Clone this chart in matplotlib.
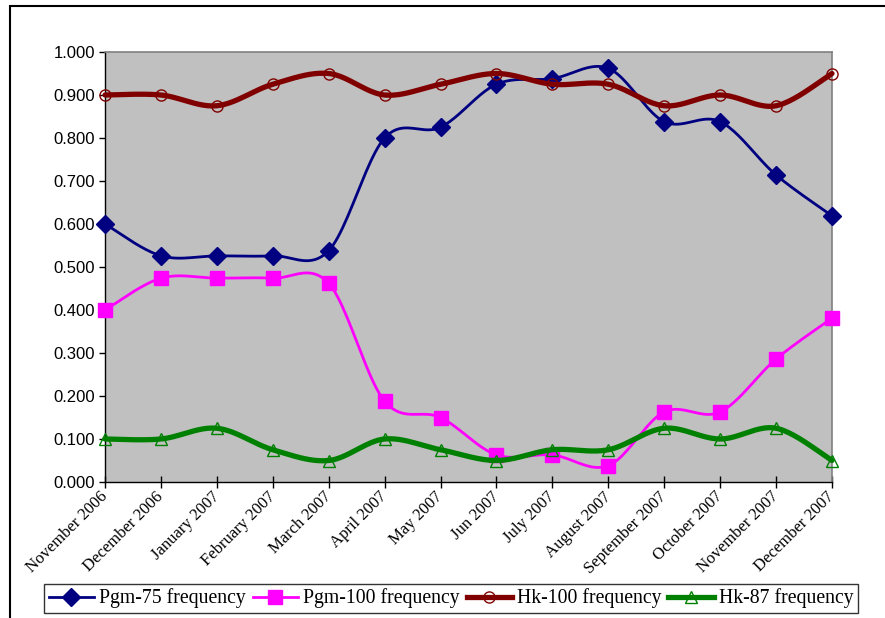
import numpy as np
import matplotlib
matplotlib.use("Agg")
import matplotlib.pyplot as plt
from matplotlib.lines import Line2D
from matplotlib.patches import Rectangle

months = ["November 2006", "December 2006", "January 2007", "February 2007",
          "March 2007", "April 2007", "May 2007", "Jun 2007", "July 2007",
          "August 2007", "September 2007", "October 2007", "November 2007",
          "December 2007"]

pgm75 = [0.600, 0.526, 0.526, 0.526, 0.538, 0.800, 0.825, 0.925, 0.938,
         0.962, 0.838, 0.838, 0.714, 0.619]
pgm100 = [0.400, 0.474, 0.474, 0.474, 0.462, 0.188, 0.150, 0.063, 0.063,
          0.038, 0.163, 0.163, 0.286, 0.381]
hk100 = [0.900, 0.900, 0.875, 0.925, 0.950, 0.900, 0.925, 0.950, 0.925,
         0.925, 0.875, 0.900, 0.875, 0.950]
hk87 = [0.100, 0.100, 0.125, 0.075, 0.050, 0.100, 0.075, 0.050, 0.075,
        0.075, 0.125, 0.100, 0.125, 0.050]

series_names = ["Pgm-75 frequency", "Pgm-100 frequency",
                "Hk-100 frequency", "Hk-87 frequency"]
yticks = [0.0, 0.1, 0.2, 0.3, 0.4, 0.5, 0.6, 0.7, 0.8, 0.9, 1.0]


def smooth_curve(yvals, n=25):
    """Bezier smoothing through every point (Catmull-Rom control points)."""
    x = np.arange(len(yvals), dtype=float)
    P = np.column_stack([x, np.asarray(yvals, dtype=float)])
    Q = np.vstack([P[0], P, P[-1]])
    t = np.linspace(0, 1, n)[:, None]
    out = []
    for i in range(len(P) - 1):
        p0, p1, p2, p3 = Q[i], Q[i + 1], Q[i + 2], Q[i + 3]
        c1 = p1 + (p2 - p0) / 6.0
        c2 = p2 - (p3 - p1) / 6.0
        seg = ((1 - t) ** 3) * p1 + 3 * ((1 - t) ** 2) * t * c1 \
            + 3 * (1 - t) * (t ** 2) * c2 + (t ** 3) * p2
        out.append(seg if i == 0 else seg[1:])
    s = np.vstack(out)
    return s[:, 0], s[:, 1]


W, H = 885, 618
fig = plt.figure(figsize=(W / 100, H / 100), dpi=100)
fig.patch.set_facecolor("white")

# outer chart-area frame
fig.add_artist(Rectangle((10 / W, -0.2), 1.2, (1 - 6 / H) + 0.2,
                         transform=fig.transFigure, fill=False,
                         edgecolor="black", linewidth=1.5))

left, right, top, bottom = 105, 832, 52, 482
ax = fig.add_axes([left / W, 1 - bottom / H, (right - left) / W, (bottom - top) / H])
ax.set_facecolor("#C0C0C0")
ax.set_xlim(0, len(months) - 1)
ax.set_ylim(0, 1)

for side in ("top", "right"):
    ax.spines[side].set_color("#808080")
    ax.spines[side].set_linewidth(1.2)
for side in ("left", "bottom"):
    ax.spines[side].set_color("black")
    ax.spines[side].set_linewidth(1.0)

styles = [
    dict(color="#000080", lw=2.0, marker="D", ms=9.5, mfc="#000080", mec="#000080", mew=1.0),
    dict(color="#FF00FF", lw=2.0, marker="s", ms=9.5, mfc="#FF00FF", mec="#FF00FF", mew=1.0),
    dict(color="#800000", lw=3.8, marker="o", ms=8, mfc="none", mec="#800000", mew=1.0),
    dict(color="#008000", lw=3.8, marker="^", ms=8.5, mfc="none", mec="#008000", mew=1.0),
]

xs = np.arange(len(months))
handles = []
for vals, st, name in zip([pgm75, pgm100, hk100, hk87], styles, series_names):
    sx, sy = smooth_curve(vals)
    ax.plot(sx, sy, color=st["color"], lw=st["lw"], solid_capstyle="round",
            clip_on=False, zorder=3)
    ax.plot(xs, vals, ls="none", marker=st["marker"], ms=st["ms"],
            mfc=st["mfc"], mec=st["mec"], mew=st["mew"], clip_on=False, zorder=3)
    handles.append(Line2D([], [], color=st["color"], lw=st["lw"], marker=st["marker"],
                          ms=st["ms"], mfc=st["mfc"], mec=st["mec"], mew=st["mew"]))

ax.set_yticks(yticks)
ax.set_yticklabels([f"{v:.3f}" for v in yticks],
                   fontfamily="Liberation Sans", fontsize=12)
ax.set_xticks(xs)
ax.set_xticklabels(months, rotation=45, ha="right", va="center", rotation_mode="anchor",
                   fontfamily="Liberation Serif", fontsize=12)
ax.tick_params(axis="y", direction="out", length=4, width=1, pad=3, colors="black")
ax.tick_params(axis="x", direction="inout", length=8, width=1, pad=5, colors="black")

leg = fig.legend(handles, series_names, loc="center", ncol=4,
                 bbox_to_anchor=(451 / W, 1 - 598.5 / H),
                 prop=dict(family="Liberation Serif", size=14.2),
                 frameon=True, fancybox=False, edgecolor="black",
                 handlelength=2.3, handletextpad=0.25, columnspacing=0.35,
                 borderpad=0.25, borderaxespad=0)
leg.get_frame().set_linewidth(1.0)

fig.savefig("out.png", dpi=100, facecolor="white")
